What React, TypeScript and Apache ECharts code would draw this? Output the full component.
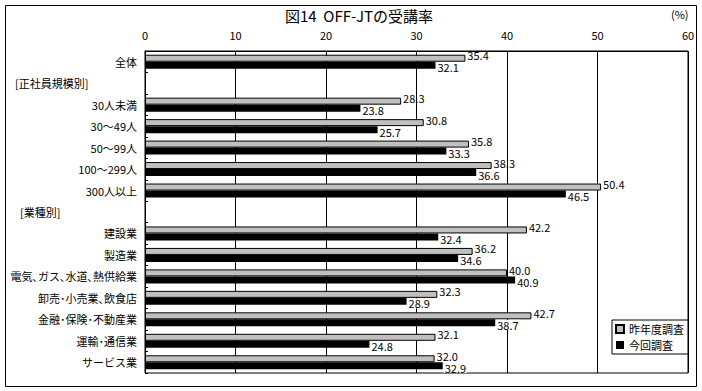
import React, { useEffect, useRef } from "react";
import * as echarts from "echarts";

const categories = [
  "全体",
  "[正社員規模別]",
  "30人未満",
  "30～49人",
  "50～99人",
  "100～299人",
  "300人以上",
  "[業種別]",
  "建設業",
  "製造業",
  "電気､ガス､水道､熱供給業",
  "卸売･小売業､飲食店",
  "金融･保険･不動産業",
  "運輸･通信業",
  "サービス業",
];
const headerRows = ["[正社員規模別]", "[業種別]"];
const lastYear: (number | null)[] = [35.4, null, 28.3, 30.8, 35.8, 38.3, 50.4, null, 42.2, 36.2, 40.0, 32.3, 42.7, 32.1, 32.0];
const thisYear: (number | null)[] = [32.1, null, 23.8, 25.7, 33.3, 36.6, 46.5, null, 32.4, 34.6, 40.9, 28.9, 38.7, 24.8, 32.9];
const seriesNames = ["昨年度調査", "今回調査"];
const xTicks = [0, 10, 20, 30, 40, 50, 60];
const titleText = "図14  OFF-JTの受講率";
const unitText = "(%)";

const FONT = "'Noto Sans CJK JP', sans-serif";

export default function App() {
  const ref = useRef<HTMLDivElement>(null);
  useEffect(() => {
    document.body.style.margin = "0";
    if (!ref.current) return;
    const chart = echarts.init(ref.current, null, { renderer: "svg" });
    chart.setOption({
      animation: false,
      backgroundColor: "#fff",
      textStyle: { fontFamily: FONT, color: "#000" },
      title: {
        text: titleText,
        left: 283,
        top: 4,
        padding: 2,
        textStyle: { fontSize: 15, lineHeight: 18, fontWeight: "normal", color: "#000", fontFamily: FONT },
      },
      graphic: [
        {
          type: "rect",
          shape: { x: 5.5, y: 5.5, width: 691, height: 381 },
          style: { fill: "none", stroke: "#000", lineWidth: 1 },
          silent: true,
        },
        {
          type: "text",
          x: 671,
          y: 8,
          style: { text: unitText, fontSize: 11, fill: "#000", fontFamily: FONT },
        },
      ],
      legend: {
        orient: "vertical",
        left: 612,
        top: 320,
        backgroundColor: "#fff",
        borderColor: "#000",
        borderWidth: 1,
        borderRadius: 0,
        padding: [3, 4, 3, 3],
        itemGap: 4,
        itemWidth: 8,
        itemHeight: 8,
        icon: "rect",
        textStyle: { fontSize: 11, lineHeight: 12, color: "#000", fontFamily: FONT, padding: 0 },
        data: seriesNames,
      },
      grid: {
        left: 145,
        right: 14,
        top: 51,
        bottom: 18,
        show: true,
        borderColor: "#000",
        borderWidth: 1,
        backgroundColor: "#fff",
      },
      xAxis: {
        type: "value",
        position: "top",
        min: xTicks[0],
        max: xTicks[xTicks.length - 1],
        interval: 10,
        axisLine: { show: true, lineStyle: { color: "#000" } },
        axisTick: { show: false },
        axisLabel: { fontSize: 11, color: "#000", margin: 11, fontFamily: FONT },
        splitLine: { show: true, lineStyle: { color: "#000", width: 1 } },
      },
      yAxis: {
        type: "category",
        inverse: true,
        data: categories,
        axisLine: { show: true, lineStyle: { color: "#000" } },
        axisTick: { show: true, inside: true, length: 3, lineStyle: { color: "#000" } },
        axisLabel: {
          fontSize: 11,
          color: "#000",
          margin: 8,
          fontFamily: FONT,
          formatter: (v: string) => {
            if (v === headerRows[0]) return "{h1|" + v + "}";
            if (v === headerRows[1]) return "{h2|" + v + "}";
            return v;
          },
          rich: {
            h1: { width: 122, align: "left", fontSize: 11, fontFamily: FONT, color: "#000" },
            h2: { width: 117, align: "left", fontSize: 11, fontFamily: FONT, color: "#000" },
          },
        },
      },
      series: [
        {
          name: seriesNames[0],
          type: "bar",
          data: lastYear,
          barWidth: 7,
          barGap: "0%",
          itemStyle: { color: "#c0c0c0", borderColor: "#000", borderWidth: 1 },
          label: {
            show: true,
            position: "right",
            distance: 2,
            offset: [0, -3],
            fontSize: 11,
            lineHeight: 10,
            color: "#000",
            fontFamily: FONT,
            formatter: (p: any) => (p.value == null ? "" : Number(p.value).toFixed(1)),
          },
          z: 2,
        },
        {
          name: seriesNames[1],
          type: "bar",
          data: thisYear,
          barWidth: 7,
          barGap: "0%",
          itemStyle: { color: "#000" },
          label: {
            show: true,
            position: "right",
            distance: 1,
            offset: [0, 2],
            fontSize: 11,
            color: "#000",
            fontFamily: FONT,
            backgroundColor: "#fff",
            padding: [0, 1, 0, 1],
            lineHeight: 10,
            formatter: (p: any) => (p.value == null ? "" : Number(p.value).toFixed(1)),
          },
          z: 3,
        },
      ],
    });
    return () => chart.dispose();
  }, []);
  return <div ref={ref} style={{ width: 702, height: 391 }} />;
}
